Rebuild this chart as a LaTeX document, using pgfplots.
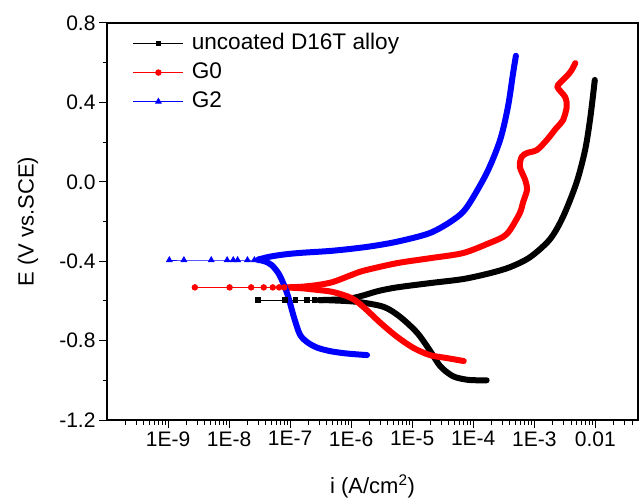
\documentclass[border=0pt]{standalone}
\usepackage{fontspec}
\setmainfont{Liberation Sans}
\usepackage{pgfplots}
\pgfplotsset{compat=1.18}
\definecolor{myred}{RGB}{255,0,0}
\definecolor{myblue}{RGB}{0,0,255}
\begin{document}
\begin{tikzpicture}
\begin{axis}[
  scale only axis, width=531bp, height=397bp,
  xmode=log, xmin=1e-10, xmax=0.05,
  ymin=-1.2, ymax=0.8,
  xtick={1e-9,1e-8,1e-7,1e-6,1e-5,1e-4,1e-3,1e-2},
  xticklabels={1E-9,1E-8,1E-7,1E-6,1E-5,1E-4,1E-3,0.01},
  minor xtick={2e-10,3e-10,4e-10,5e-10,6e-10,7e-10,8e-10,9e-10,
    2e-9,3e-9,4e-9,5e-9,6e-9,7e-9,8e-9,9e-9,
    2e-8,3e-8,4e-8,5e-8,6e-8,7e-8,8e-8,9e-8,
    2e-7,3e-7,4e-7,5e-7,6e-7,7e-7,8e-7,9e-7,
    2e-6,3e-6,4e-6,5e-6,6e-6,7e-6,8e-6,9e-6,
    2e-5,3e-5,4e-5,5e-5,6e-5,7e-5,8e-5,9e-5,
    2e-4,3e-4,4e-4,5e-4,6e-4,7e-4,8e-4,9e-4,
    2e-3,3e-3,4e-3,5e-3,6e-3,7e-3,8e-3,9e-3,
    2e-2,3e-2,4e-2},
  ytick={-1.2,-0.8,-0.4,0,0.4,0.8},
  yticklabels={-1.2,-0.8,-0.4,0.0,0.4,0.8},
  minor ytick={-1.0,-0.6,-0.2,0.2,0.6},
  tick align=outside, xtick pos=bottom, ytick pos=left,
  major tick length=8bp, minor tick length=4.5bp,
  every tick/.style={black, line width=1bp},
  axis line style={line width=1.2bp},
  tick label style={font=\fontsize{21bp}{25bp}\selectfont},
  label style={font=\fontsize{22bp}{26bp}\selectfont},
  xlabel={i (A/cm\textsuperscript{2})},
  ylabel={E (V vs.SCE)},
  xlabel style={at={(axis description cs:0.5,-0.1839)}, anchor=base},
  ylabel style={at={(axis description cs:-0.1488,0.5)}, anchor=center},
  legend cell align=left,
  legend image code/.code={
    \draw[mark repeat=2,mark phase=2,#1] plot coordinates {(0bp,0bp)(25bp,0bp)(50bp,0bp)};
  },
  legend style={draw=none, fill=none, at={(axis description cs:0.049,0.9734)}, anchor=north west,
    inner sep=0pt, outer sep=0pt, row sep=9bp, column sep=8bp,
    font=\fontsize{22.6bp}{26bp}\selectfont,
    nodes={inner sep=0pt, text height=16bp, text depth=4bp}},
]
% ---------- uncoated D16T alloy ----------
\addplot[black, line width=6bp, smooth, line cap=round, forget plot] coordinates {
(1.66e-4,-1.0)(1.2e-4,-1.0)(7.9e-5,-0.997)(4.7e-5,-0.98)(2.9e-5,-0.93)(1.95e-5,-0.85)
(1.2e-5,-0.76)(6.3e-6,-0.68)(3.4e-6,-0.63)(1.26e-6,-0.605)(4.6e-7,-0.597)(3e-7,-0.596)};
\addplot[black, line width=6bp, smooth, line cap=round, forget plot] coordinates {
(3e-7,-0.596)(6e-7,-0.593)(1.0e-6,-0.587)(1.6e-6,-0.572)(2.8e-6,-0.55)(5.6e-6,-0.532)
(2e-5,-0.51)(6.8e-5,-0.49)(1.9e-4,-0.46)(4e-4,-0.43)(8.5e-4,-0.38)(1.8e-3,-0.29)
(2.95e-3,-0.177)(4.9e-3,-0.006)(6.8e-3,0.16)(8.3e-3,0.326)(9.8e-3,0.513)};
\addplot[black, line width=0.8bp, mark=square*, mark size=2.3bp] coordinates {
(2.95e-8,-0.596)(8.3e-8,-0.596)(1.22e-7,-0.596)(1.9e-7,-0.596)(2.5e-7,-0.596)(3.3e-7,-0.596)(4.6e-7,-0.596)};
\addlegendentry{uncoated D16T alloy}
% ---------- G0 ----------
\addplot[myred, line width=6bp, smooth, line cap=round, forget plot] coordinates {
(7e-5,-0.903)(3.7e-5,-0.888)(1.95e-5,-0.873)(1.05e-5,-0.837)(5.6e-6,-0.78)(3.0e-6,-0.71)
(1.58e-6,-0.63)(1.0e-6,-0.585)(5e-7,-0.555)(2.5e-7,-0.543)(1.5e-7,-0.536)(8e-8,-0.532)};
\addplot[myred, line width=6bp, smooth, line cap=round, forget plot] coordinates {
(8e-8,-0.532)(1.5e-7,-0.529)(2.8e-7,-0.52)(5e-7,-0.505)(1e-6,-0.47)(1.6e-6,-0.448)
(5.6e-6,-0.41)(1.95e-5,-0.385)(6.8e-5,-0.359)(1.86e-4,-0.308)(3.1e-4,-0.277)(4e-4,-0.243)
(5.8e-4,-0.157)(6.6e-4,-0.10)(7.6e-4,-0.041)(7.1e-4,0.009)(5.8e-4,0.075)(6.2e-4,0.125)
(7.6e-4,0.145)(1.1e-3,0.16)(1.6e-3,0.21)(2.3e-3,0.271)(2.95e-3,0.31)(3.4e-3,0.377)
(3.2e-3,0.427)(2.4e-3,0.478)(2.95e-3,0.513)(3.55e-3,0.538)(4.1e-3,0.563)(4.7e-3,0.598)};
\addplot[myred, line width=0.8bp, mark=*, mark size=2.8bp] coordinates {
(2.75e-9,-0.532)(1.02e-8,-0.532)(2.3e-8,-0.532)(3.7e-8,-0.532)(5.2e-8,-0.532)(6.6e-8,-0.532)(8e-8,-0.532)};
\addlegendentry{G0}
% ---------- G2 ----------
\addplot[myblue, line width=6bp, smooth, line cap=round, forget plot] coordinates {
(1.82e-6,-0.873)(1.2e-6,-0.869)(7.4e-7,-0.863)(4.5e-7,-0.853)(2.8e-7,-0.836)(1.95e-7,-0.81)
(1.45e-7,-0.77)(1.15e-7,-0.68)(9e-8,-0.565)(6.7e-8,-0.47)(5e-8,-0.42)(3.8e-8,-0.40)(3e-8,-0.394)};
\addplot[myblue, line width=6bp, smooth, line cap=round, forget plot] coordinates {
(3e-8,-0.392)(4.5e-8,-0.378)(8e-8,-0.366)(1.5e-7,-0.358)(5.1e-7,-0.347)(1.8e-6,-0.328)
(5.6e-6,-0.302)(1.95e-5,-0.258)(4.7e-5,-0.192)(7.9e-5,-0.127)(1.66e-4,0.044)(2.75e-4,0.21)
(3.7e-4,0.377)(4.5e-4,0.548)(5.0e-4,0.635)};
\addplot[myblue, line width=0.8bp, mark=triangle*, mark size=3.2bp] coordinates {
(1.05e-9,-0.394)(1.82e-9,-0.394)(5.1e-9,-0.394)(9.3e-9,-0.394)(1.17e-8,-0.394)(1.38e-8,-0.394)
(2.0e-8,-0.394)(2.6e-8,-0.394)(3e-8,-0.394)};
\addlegendentry{G2}
\end{axis}
\pgfresetboundingbox
\path[use as bounding box] ([xshift=-107bp,yshift=-79bp]current axis.south west) rectangle ([xshift=3bp,yshift=23bp]current axis.north east);
\end{tikzpicture}
\end{document}
